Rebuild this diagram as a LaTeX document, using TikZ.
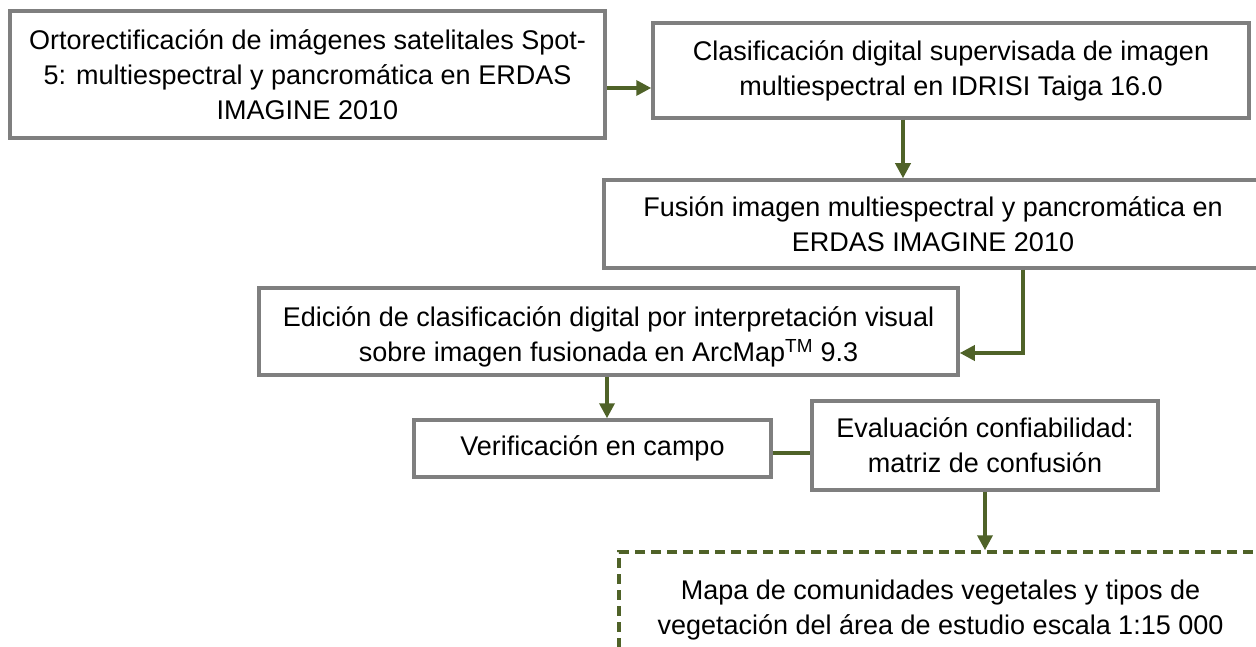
\documentclass[tikz,border=0pt]{standalone}
\usepackage{fontspec}
\setmainfont{Liberation Sans}
\usetikzlibrary{arrows.meta}

\definecolor{boxgray}{HTML}{7F7F7F}
\definecolor{flowgreen}{HTML}{4F6228}

\tikzstyle{block} = [rectangle, draw=boxgray, line width=3.5pt, align=center, inner sep=0pt, font=\fontsize{27}{35}\selectfont]
\tikzstyle{result} = [block, draw=flowgreen, dash pattern=on 10pt off 6pt]
\tikzstyle{flow} = [draw=flowgreen, line width=3.5pt, -{Triangle[width=15pt,length=15pt]}]
\tikzstyle{link} = [draw=flowgreen, line width=3.5pt]

\begin{document}
\begin{tikzpicture}[x=1pt,y=-1pt]
        \useasboundingbox (0,0) rectangle (1256,647);
        \clip (0,0) rectangle (1256,647);
        % Steps of the classification
        \node (n1) at (307.5,74.5) [block, minimum width=595pt, minimum height=127pt] {Ortorectificación de imágenes satelitales Spot-\\5: multiespectral y pancromática en ERDAS\\IMAGINE 2010};
        \node (n2) at (951,70.5) [block, minimum width=596pt, minimum height=95pt] {Clasificación digital supervisada de imagen\\multiespectral en IDRISI Taiga 16.0};
        \node (n3) at (933,224) [block, minimum width=658pt, minimum height=88pt] {Fusión imagen multiespectral y pancromática en\\ERDAS IMAGINE 2010};
        \node (n4) at (608.5,331.5) [block, minimum width=699pt, minimum height=87pt, text height=66pt] {Edición de clasificación digital por interpretación visual\\sobre imagen fusionada en ArcMap\textsuperscript{TM} 9.3};
        \node (n5) at (592.5,448.5) [block, minimum width=357pt, minimum height=57pt] {Verificación en campo};
        \node (n6) at (985,445.5) [block, minimum width=346pt, minimum height=89pt] {Evaluación confiabilidad:\\matriz de confusión};
        % Final map
        \node (n7) at (940.5,610) [result, minimum width=643pt, minimum height=116pt] {Mapa de comunidades vegetales y tipos de\\vegetación del área de estudio escala 1:15 000};

        \draw[flow] (n1.east |- 0,88) -- (n2.west |- 0,88);
        \draw[flow] (n2.south -| 903,0) -- (n3.north -| 903,0);
        \draw[flow] (n3.south -| 1023,0) |- (n4.east |- 0,353);
        \draw[flow] (n4.south -| 607,0) -- (n5.north -| 607,0);
        \draw[link] (n5.east |- 0,453) -- (n6.west |- 0,453);
        \draw[flow] (n6.south) -- (n7.north -| n6.south);
\end{tikzpicture}
\end{document}
